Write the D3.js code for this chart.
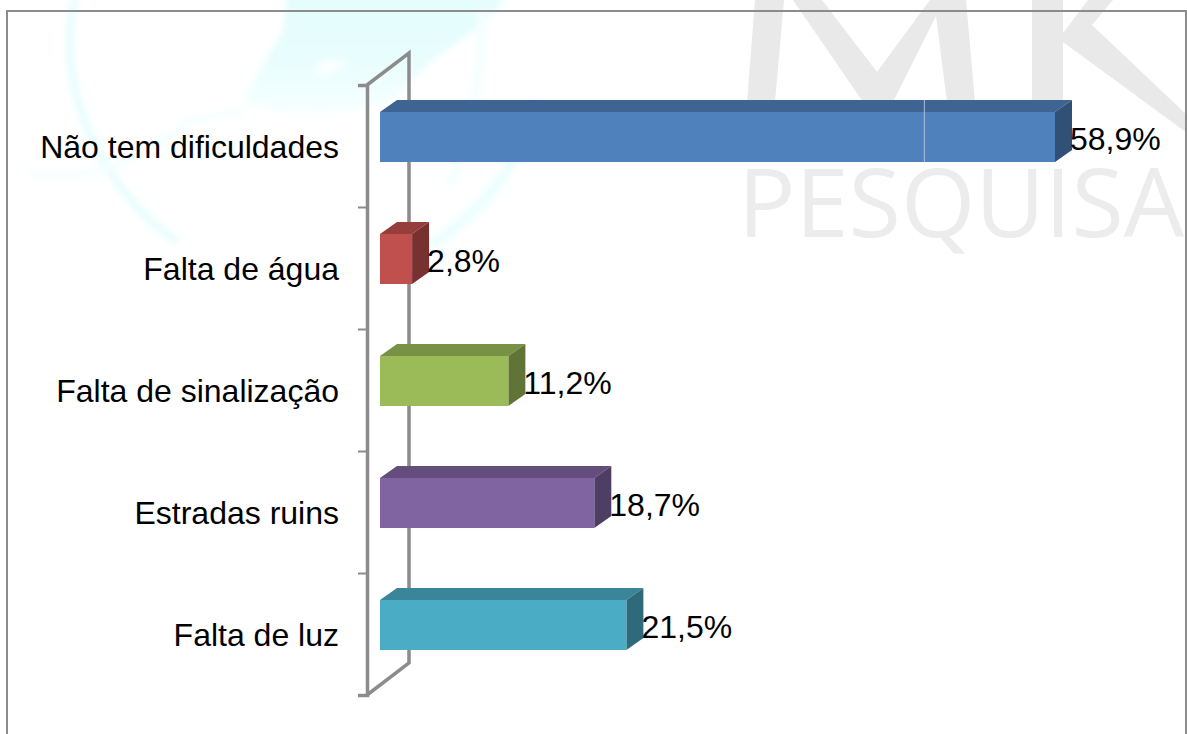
<!DOCTYPE html>
<html lang="pt">
<head>
    <meta charset="UTF-8">
    <title>Dificuldades</title>
    <script src="https://d3js.org/d3.v7.min.js"></script>
    <style>
        html, body { margin: 0; padding: 0; background: #fff; overflow: hidden; }
        svg { display: block; }
        text { font-family: "Liberation Sans", Arial, sans-serif; fill: #000; }
    </style>
</head>
<body>
    <div class="canvas"></div>
    <script>
        const categories = ['Não tem dificuldades', 'Falta de água', 'Falta de sinalização', 'Estradas ruins', 'Falta de luz'];
        const values = [58.9, 2.8, 11.2, 18.7, 21.5];
        const barColors = ['#4f81bd', '#c0504d', '#9bbb59', '#8064a2', '#4bacc6'];
        const gridValues = [47.5]; // the one pale vertical line on the top bar

        const width = 1187;
        const height = 734;
        const axisColor = '#8c8c8c';

        // oblique depth of the 3D wall, and where the bars sit inside it
        const wallDx = 42, wallDy = -32;
        const barDx = 17, barDy = -12;
        const barShiftY = -9;

        const svg = d3.select('.canvas').append('svg')
            .attr('width', width)
            .attr('height', height);

        const defs = svg.append('defs');
        defs.append('filter').attr('id', 'soft')
            .attr('x', '-20%').attr('y', '-20%').attr('width', '140%').attr('height', '140%')
            .append('feGaussianBlur').attr('stdDeviation', 3);
        const fade = defs.append('linearGradient').attr('id', 'fade')
            .attr('x1', 0).attr('y1', 0).attr('x2', 0).attr('y2', 1);
        fade.append('stop').attr('offset', '0%').attr('stop-color', '#e4fdfd');
        fade.append('stop').attr('offset', '55%').attr('stop-color', '#e8fdfd');
        fade.append('stop').attr('offset', '100%').attr('stop-color', '#f6ffff');

        // watermark behind the chart
        const mark = svg.append('g');
        const globe = mark.append('g').attr('filter', 'url(#soft)');
        globe.append('path')
            .attr('d', 'M288,-10 C286,12 284,22 282,32 C268,56 254,80 243,102 C262,106 270,112 284,112 C300,108 330,116 372,106 C382,104 388,102 393,100 L433,60 C465,38 492,20 510,-10 Z')
            .attr('fill', 'url(#fade)');
        globe.append('path')
            .attr('d', 'M312,76 L322,60 L350,60 L332,74 Z')
            .attr('fill', '#fbffff');
        globe.append('path')
            .attr('d', 'M76,-10 C62,50 72,110 107,167 C122,190 142,218 178,242')
            .attr('fill', 'none').attr('stroke', '#e8fdfd').attr('stroke-width', 8);
        globe.append('path')
            .attr('d', 'M534,100 C522,160 490,205 430,246')
            .attr('fill', 'none').attr('stroke', '#edfefe').attr('stroke-width', 12);
        globe.append('path')
            .attr('d', 'M482,10 C482,50 478,120 450,185')
            .attr('fill', 'none').attr('stroke', '#f5fefe').attr('stroke-width', 10);
        globe.append('path')
            .attr('d', 'M30,173 C70,180 130,172 187,122 C205,114 225,116 243,112')
            .attr('fill', 'none').attr('stroke', '#f5fefe').attr('stroke-width', 7);

        const gray = '#e9e9e9';
        [
            [[755, 0], [784, 0], [775, 102], [747, 102]],
            [[793, 0], [822, 0], [877, 72], [930, 0], [944, 0], [893, 102], [863, 102]],
            [[934, 0], [966, 0], [975, 102], [947, 102]],
            [[1032, 0], [1063, 0], [1063, 102], [1032, 102]],
            [[1063, 33], [1088, 0], [1113, 0], [1092, 25], [1187, 115], [1187, 133], [1063, 42]]
        ].forEach(p => {
            mark.append('polygon').attr('points', p.join(' ')).attr('fill', gray);
        });
        mark.append('text')
            .attr('x', 738)
            .attr('y', 237)
            .style('font-family', '"Open Sans"')
            .style('font-size', '95.5px')
            .style('fill', '#ececec')
            .text('PESQUISA');

        // outer frame runs off the bottom of the picture
        svg.append('rect')
            .attr('x', 7).attr('y', 11)
            .attr('width', 1179).attr('height', 760)
            .attr('fill', 'none')
            .attr('stroke', axisColor)
            .attr('stroke-width', 2);

        const x = d3.scaleLinear().domain([0, 58.9]).range([380, 1055]);
        const y = d3.scaleBand().domain(categories).range([85, 695])
            .paddingInner(0.59).paddingOuter(0.295);
        const yTicks = d3.scaleLinear().domain([0, categories.length]).range([695, 85]);

        // wall: front line, back line, and the two connectors
        const wallX = 367;
        const wall = svg.append('g')
            .attr('fill', 'none')
            .attr('stroke', axisColor)
            .attr('stroke-width', 3.5);
        wall.append('path')
            .attr('d', d3.line()([
                [wallX, yTicks(5)],
                [wallX + wallDx, yTicks(5) + wallDy],
                [wallX + wallDx, yTicks(0) + wallDy],
                [wallX, yTicks(0)]
            ]));

        const tickAxis = svg.append('g')
            .attr('transform', `translate(${wallX}, 0)`)
            .call(d3.axisLeft(yTicks).ticks(5).tickSize(9).tickFormat(''));
        tickAxis.selectAll('line').attr('stroke', axisColor).attr('stroke-width', 2);
        tickAxis.select('.domain').attr('stroke', axisColor).attr('stroke-width', 3.5);

        const labelAxis = svg.append('g')
            .attr('transform', 'translate(339, 0)')
            .call(d3.axisLeft(y).tickSize(0).tickPadding(0));
        labelAxis.select('.domain').remove();
        labelAxis.selectAll('text')
            .style('font-family', '"Liberation Sans"')
            .style('font-size', '32px')
            .attr('dy', '0.39em');

        // bars: front, top, side
        const bars = svg.selectAll('g.bar')
            .data(categories)
            .enter()
            .append('g')
            .attr('class', 'bar');

        const fx = x(0);
        const fy = d => y(d) + barShiftY;
        const val = (d, i) => x(values[i]);

        bars.append('path')
            .attr('fill', (d, i) => d3.rgb(barColors[i]).darker(0.72))
            .attr('d', (d, i) => d3.line()([
                [fx, fy(d)],
                [fx + barDx, fy(d) + barDy],
                [val(d, i) + barDx, fy(d) + barDy],
                [val(d, i), fy(d)]
            ]) + 'Z');

        bars.append('path')
            .attr('fill', (d, i) => d3.rgb(barColors[i]).darker(1.35))
            .attr('d', (d, i) => d3.line()([
                [val(d, i), fy(d)],
                [val(d, i) + barDx, fy(d) + barDy],
                [val(d, i) + barDx, fy(d) + barDy + y.bandwidth()],
                [val(d, i), fy(d) + y.bandwidth()]
            ]) + 'Z');

        bars.append('rect')
            .attr('x', fx)
            .attr('y', d => fy(d))
            .attr('width', (d, i) => val(d, i) - fx)
            .attr('height', y.bandwidth())
            .attr('fill', (d, i) => barColors[i]);

        svg.selectAll('line.grid')
            .data(gridValues)
            .enter()
            .append('line')
            .attr('class', 'grid')
            .attr('x1', d => x(d)).attr('x2', d => x(d))
            .attr('y1', fy(categories[0]) + barDy)
            .attr('y2', fy(categories[0]) + y.bandwidth())
            .attr('stroke', '#a9c0de')
            .attr('stroke-width', 1);

        svg.selectAll('text.value')
            .data(values)
            .enter()
            .append('text')
            .attr('class', 'value')
            .attr('x', d => x(d) + barDx - 2)
            .attr('y', (d, i) => y(categories[i]) + y.bandwidth() / 2 - 9)
            .attr('dy', '0.42em')
            .style('font-size', '32px')
            .text(d => d3.format('.1f')(d).replace('.', ',') + '%');
    </script>
</body>
</html>
